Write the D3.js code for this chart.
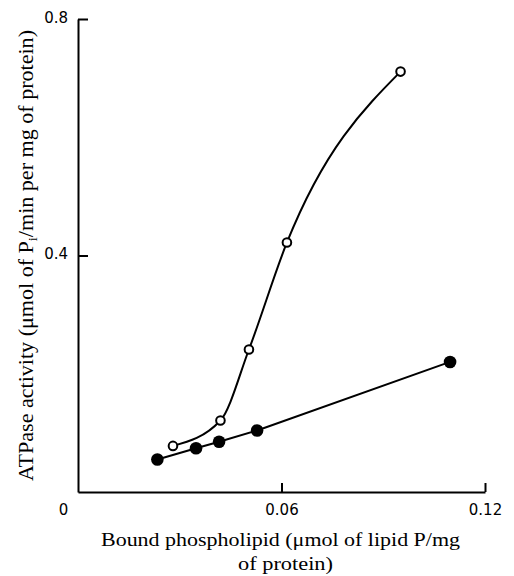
<!DOCTYPE html>
<html>
<head>
<meta charset="utf-8">
<script src="https://cdn.jsdelivr.net/npm/d3@7"></script>
<style>
  body { margin: 0; background: #fff; }
  svg { display: block; }
  .tick text { font-family: "DejaVu Sans", Arial, sans-serif; font-size: 15px; fill: #000; }
  .title { font-family: "Liberation Serif", "Times New Roman", serif; fill: #000; }
</style>
</head>
<body>
<script>
// bound phospholipid (x) and ATPase activity (y)
const openX = [0.0280, 0.0420, 0.0504, 0.0616, 0.0951];
const openY = [0.078, 0.121, 0.241, 0.422, 0.711];
const filledX = [0.0234, 0.0348, 0.0416, 0.0528, 0.1097];
const filledY = [0.055, 0.074, 0.085, 0.104, 0.220];
const xTicks = [0, 0.06, 0.12];
const yTicks = [0.4, 0.8];

const W = 514, H = 576;
const svg = d3.select('body').append('svg').attr('width', W).attr('height', H);

const x = d3.scaleLinear().domain([0, 0.12]).range([78, 485]);
const y = d3.scaleLinear().domain([0, 0.8]).range([492, 19]);

// axes
const yAxis = svg.append('g').attr('transform', 'translate(78,0)')
  .call(d3.axisLeft(y).tickValues(yTicks).tickSizeInner(-10).tickSizeOuter(0).tickPadding(10).tickFormat(d3.format('.1f')));
const xAxis = svg.append('g').attr('transform', 'translate(0,492)')
  .call(d3.axisBottom(x).tickValues(xTicks).tickSizeInner(-9).tickSizeOuter(0).tickPadding(12)
    .tickFormat(d => d === 0 ? '0' : d3.format('.2f')(d)));
[xAxis, yAxis].forEach(a => {
  a.select('.domain').attr('stroke', '#000').attr('stroke-width', 2);
  a.selectAll('.tick line').attr('stroke', '#000').attr('stroke-width', 2);
});
yAxis.selectAll('.tick text').attr('dy', '0.2em');
// the "0" label sits left of the origin
xAxis.selectAll('.tick').filter(d => d === 0).select('line').remove();
xAxis.selectAll('.tick').filter(d => d === 0).select('text').attr('dx', -15);

// lines
const openPts = openX.map((v, i) => [v, openY[i]]);
const filledPts = filledX.map((v, i) => [v, filledY[i]]);

svg.append('path')
  .attr('d', d3.line().x(d => x(d[0])).y(d => y(d[1])).curve(d3.curveMonotoneX)(openPts))
  .attr('fill', 'none').attr('stroke', '#000').attr('stroke-width', 2);
svg.append('path')
  .attr('d', d3.line().x(d => x(d[0])).y(d => y(d[1]))(filledPts))
  .attr('fill', 'none').attr('stroke', '#000').attr('stroke-width', 2);

// markers
svg.selectAll('circle.open').data(openPts).enter().append('circle')
  .attr('class', 'open')
  .attr('cx', d => x(d[0])).attr('cy', d => y(d[1])).attr('r', 4.3)
  .attr('fill', '#fff').attr('stroke', '#000').attr('stroke-width', 2);
svg.selectAll('circle.filled').data(filledPts).enter().append('circle')
  .attr('class', 'filled')
  .attr('cx', d => x(d[0])).attr('cy', d => y(d[1])).attr('r', 6.3)
  .attr('fill', '#000');

// axis titles
svg.append('text').attr('class', 'title').attr('font-size', 19)
  .attr('x', 101).attr('y', 546)
  .attr('textLength', 359).attr('lengthAdjust', 'spacingAndGlyphs')
  .text('Bound phospholipid (\u03bcmol of lipid P/mg');
svg.append('text').attr('class', 'title').attr('font-size', 19)
  .attr('x', 238).attr('y', 570)
  .attr('textLength', 95).attr('lengthAdjust', 'spacingAndGlyphs')
  .text('of protein)');

const yt = svg.append('text').attr('class', 'title').attr('font-size', 20)
  .attr('transform', 'translate(33,481) rotate(-90)')
  .attr('textLength', 451).attr('lengthAdjust', 'spacingAndGlyphs');
yt.append('tspan').text('ATPase activity (\u03bcmol of P');
yt.append('tspan').attr('dy', 4).attr('font-size', 13).text('i');
yt.append('tspan').attr('dy', -4).text('/min per mg of protein)');
</script>
</body>
</html>
